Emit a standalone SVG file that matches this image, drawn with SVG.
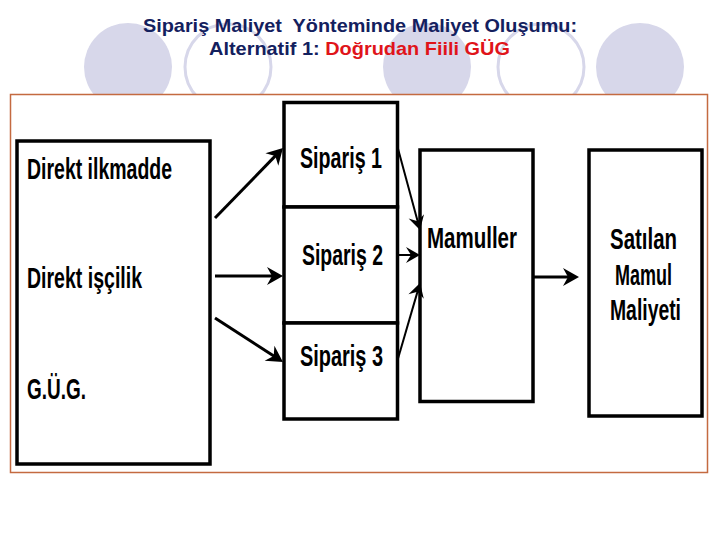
<svg xmlns="http://www.w3.org/2000/svg" width="720" height="540" viewBox="0 0 720 540">
<style>
.bg{fill:#ffffff}
.circ{fill:#d7d7ea}
.ring{fill:none;stroke:#d7d7ea;stroke-width:3}
.title{font-family:"Liberation Sans",Arial,sans-serif;font-weight:bold;font-size:19px;fill:#13205e}
.red{fill:#e0141a}
.frame{fill:#ffffff;stroke:#c46a40;stroke-width:1.5}
.box{fill:#ffffff;stroke:#000000;stroke-width:3.5}
.lbl{font-family:"Liberation Sans Narrow","Liberation Sans",Arial,sans-serif;font-weight:bold;font-size:30px;fill:#000000}
.thick{fill:none;stroke:#000000;stroke-width:3}
.thin{fill:none;stroke:#000000;stroke-width:2}
</style>
<defs>
<marker id="ah" viewBox="-14 -10 20 20" refX="0" refY="0" markerWidth="20" markerHeight="20" markerUnits="userSpaceOnUse" orient="auto">
<path d="M4,0 L-12,-9 L-7,0 L-12,9 Z" fill="#000000"/>
</marker>
<marker id="ahs" viewBox="-14 -10 20 20" refX="0" refY="0" markerWidth="20" markerHeight="20" markerUnits="userSpaceOnUse" orient="auto">
<path d="M3,0 L-11,-8 L-6,0 L-11,8 Z" fill="#000000"/>
</marker>
</defs>
<rect class="bg" x="0" y="0" width="720" height="540"/>
<g id="decor">
<circle class="circ" cx="128" cy="67" r="44"/>
<circle class="ring" cx="228" cy="67" r="43"/>
<circle class="circ" cx="427" cy="67" r="44"/>
<circle class="ring" cx="541" cy="67" r="43"/>
<circle class="circ" cx="640" cy="67" r="44"/>
</g>
<g id="title">
<text class="title" x="143" y="32" textLength="434" lengthAdjust="spacingAndGlyphs" xml:space="preserve">Sipariş Maliyet  Yönteminde Maliyet Oluşumu:</text>
<text class="title" x="209" y="55" textLength="301" lengthAdjust="spacingAndGlyphs">Alternatif 1: <tspan class="red">Doğrudan Fiili GÜG</tspan></text>
</g>
<rect id="frame" class="frame" x="10.5" y="94.5" width="697" height="378"/>
<g id="maliyetler">
<rect class="box" x="17" y="141" width="193" height="323"/>
<text class="lbl" x="27" y="179" textLength="145" lengthAdjust="spacingAndGlyphs">Direkt ilkmadde</text>
<text class="lbl" x="27" y="288" textLength="115" lengthAdjust="spacingAndGlyphs">Direkt işçilik</text>
<text class="lbl" x="27" y="399" textLength="59" lengthAdjust="spacingAndGlyphs">G.Ü.G.</text>
</g>
<g id="siparis1">
<rect class="box" x="284" y="102.5" width="113.5" height="104.5"/>
<text class="lbl" x="300" y="168" textLength="82" lengthAdjust="spacingAndGlyphs">Sipariş 1</text>
</g>
<g id="siparis2">
<rect class="box" x="284" y="207" width="113.5" height="116"/>
<text class="lbl" x="302" y="265" textLength="81" lengthAdjust="spacingAndGlyphs">Sipariş 2</text>
</g>
<g id="siparis3">
<rect class="box" x="284" y="323" width="113.5" height="96"/>
<text class="lbl" x="300" y="366" textLength="83" lengthAdjust="spacingAndGlyphs">Sipariş 3</text>
</g>
<g id="mamuller">
<rect class="box" x="420" y="150" width="113" height="251.5"/>
<text class="lbl" x="427" y="248" textLength="90" lengthAdjust="spacingAndGlyphs">Mamuller</text>
</g>
<g id="satilan">
<rect class="box" x="589" y="150" width="113" height="266"/>
<text class="lbl" x="610" y="249" textLength="67" lengthAdjust="spacingAndGlyphs">Satılan</text>
<text class="lbl" x="615" y="284.5" textLength="57" lengthAdjust="spacingAndGlyphs">Mamul</text>
<text class="lbl" x="610" y="320" textLength="71" lengthAdjust="spacingAndGlyphs">Maliyeti</text>
</g>
<g id="connectors">
<path class="thick" d="M215,218 L280.2,150.9" marker-end="url(#ah)"/>
<path class="thick" d="M215,276 L279,276" marker-end="url(#ah)"/>
<path class="thick" d="M215,318 L279.6,359.8" marker-end="url(#ah)"/>
<path class="thin" d="M397,145 L419.2,227" marker-end="url(#ahs)"/>
<path class="thin" d="M398,255 L417,255" marker-end="url(#ahs)"/>
<path class="thin" d="M397,362 L419.2,285.9" marker-end="url(#ahs)"/>
<path class="thick" d="M533,277 L575,277" marker-end="url(#ah)"/>
</g>
</svg>
